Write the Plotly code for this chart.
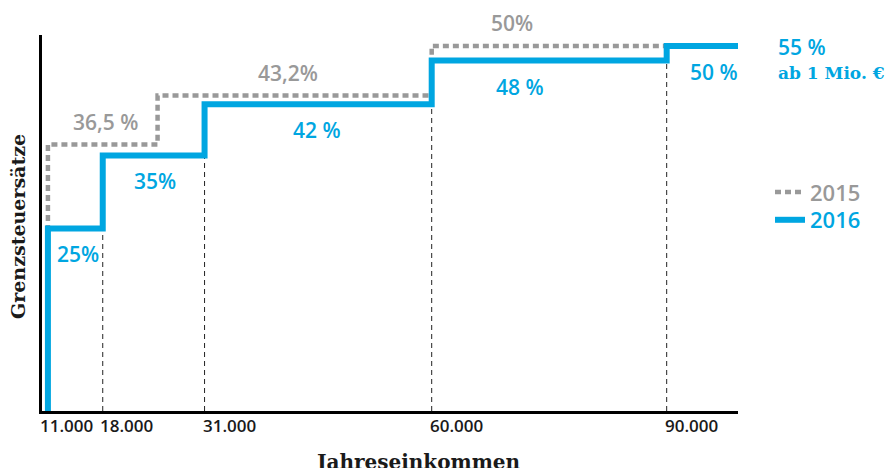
import plotly.graph_objects as go

# ---- data ----
x_2015 = [11000, 11000, 25000, 60000, 99106]
y_2015 = [0, 36.5, 43.2, 50, 50]
x_2016 = [11000, 11000, 18000, 31000, 60000, 90000, 99106]
y_2016 = [0, 25, 35, 42, 48, 50, 50]

guide_x = [18000, 31000, 60000, 90000]
guide_top = [25, 35, 42, 48]

tick_vals = [11000, 18000, 31000, 60000, 90000]
tick_text = ["11.000", "18.000", "31.000", "60.000", "90.000"]

labels_2015 = [(18300, 36.5, "36,5 %"), (41650, 43.2, "43,2%"), (70250, 50, "50%")]
labels_2016 = [(14850, 25, "25%"), (24700, 35, "35%"), (45350, 42, "42 %"),
               (71280, 48, "48 %"), (96050, 50, "50 %")]

BLUE = "#00a6e1"
GRAY = "#999999"
SANS = "Open Sans"
SERIF = "DejaVu Serif"

fig = go.Figure()

# vertical guide lines
gx, gy = [], []
for xv, top in zip(guide_x, guide_top):
    gx += [xv, xv, None]
    gy += [0, top, None]
fig.add_trace(go.Scatter(x=gx, y=gy, mode="lines", showlegend=False,
                         line=dict(color="#222222", width=1, dash="5px,4px"),
                         hoverinfo="skip"))

fig.add_trace(go.Scatter(x=x_2015, y=y_2015, mode="lines", line_shape="hv",
                         name="<span style='color:#999999'>2015</span>",
                         legend="legend",
                         line=dict(color=GRAY, width=4.5, dash="6px,4px")))
fig.add_trace(go.Scatter(x=x_2016, y=y_2016, mode="lines", line_shape="hv",
                         name=f"<span style='color:{BLUE}'>2016</span>",
                         legend="legend2",
                         line=dict(color=BLUE, width=6)))

ann = []
for xv, yv, t in labels_2015:
    ann.append(dict(x=xv, y=yv, xref="x", yref="y", text=t, showarrow=False,
                    yshift=23, font=dict(family=SANS, size=21, color=GRAY, weight=600)))
for xv, yv, t in labels_2016:
    ann.append(dict(x=xv, y=yv, xref="x", yref="y", text=t, showarrow=False,
                    yshift=-26, font=dict(family=SANS, size=21, color=BLUE, weight=600)))

tick_shift = [-10, -5, -4, -4, -4]
for xv, t, s in zip(tick_vals, tick_text, tick_shift):
    ann.append(dict(x=xv, y=0, xref="x", yref="paper", text=t, showarrow=False,
                    xanchor="left", yanchor="top", yshift=-1, xshift=s,
                    font=dict(family=SANS, size=17, color="#1a1a1a", weight=600)))

ann.append(dict(x=1.0546, y=0.968, xref="paper", yref="paper", text="55 %",
                showarrow=False, xanchor="left", yanchor="middle",
                font=dict(family=SANS, size=21, color=BLUE, weight=600)))
ann.append(dict(x=1.0546, y=0.899, xref="paper", yref="paper", text="ab 1 Mio. €",
                showarrow=False, xanchor="left", yanchor="middle",
                font=dict(family=SERIF, size=17, color=BLUE, weight="bold")))

ann.append(dict(x=0.540, y=-0.136, xref="paper", yref="paper", text="Jahreseinkommen",
                showarrow=False, xanchor="center", yanchor="middle",
                font=dict(family=SERIF, size=20, color="#1a1a1a", weight="bold")))
ann.append(dict(x=-0.0345, y=0.492, xref="paper", yref="paper", text="Grenzsteuersätze",
                showarrow=False, xanchor="center", yanchor="middle", textangle=-90,
                font=dict(family=SERIF, size=19, color="#1a1a1a", weight="bold")))

leg_common = dict(x=1.046, xanchor="left", yanchor="middle",
                  font=dict(family=SANS, size=22, weight=600),
                  bgcolor="rgba(0,0,0,0)")

fig.update_layout(
    width=889, height=468,
    margin=dict(l=42, r=151, t=35, b=57, autoexpand=False),
    paper_bgcolor="white", plot_bgcolor="white",
    showlegend=True,
    legend=dict(y=0.582, **leg_common),
    legend2=dict(y=0.508, **leg_common),
    annotations=ann,
    xaxis=dict(range=[10245, 99106], showgrid=False, zeroline=False,
               showline=True, linecolor="black", linewidth=3,
               showticklabels=False, ticks=""),
    yaxis=dict(range=[0, 51.5], showgrid=False, zeroline=False,
               showline=True, linecolor="black", linewidth=3,
               showticklabels=False, ticks=""),
)

fig.write_html("out.html", config={"displayModeBar": False},
               post_script="document.body.style.margin='0';")
